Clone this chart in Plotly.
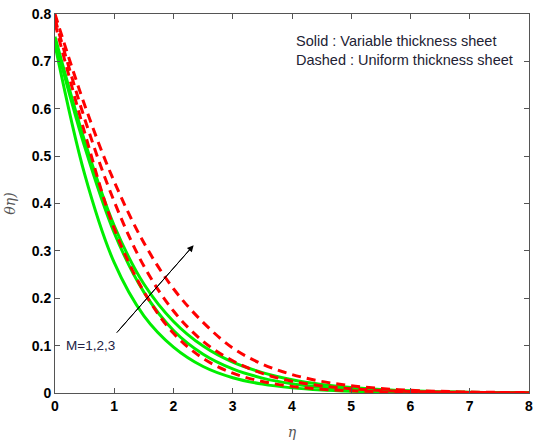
import plotly.graph_objects as go

eta = [0, 0.5, 1, 1.5, 2, 2.5, 3, 3.5, 4, 4.5, 5, 5.5, 6, 6.5, 7, 7.5, 8]

# Solid (variable thickness sheet), M = 1, 2, 3
theta_var_M1 = [0.735, 0.462, 0.275, 0.163, 0.097, 0.056, 0.0323, 0.0187, 0.0108, 0.0062, 0.0036, 0.0021, 0.0012, 0.0007, 0.0004, 0.0002, 0.0001]
theta_var_M2 = [0.745, 0.520, 0.338, 0.213, 0.132, 0.082, 0.051, 0.0315, 0.0195, 0.012, 0.0074, 0.0046, 0.0028, 0.0017, 0.0010, 0.0006, 0.0004]
theta_var_M3 = [0.752, 0.532, 0.353, 0.230, 0.151, 0.099, 0.065, 0.043, 0.028, 0.018, 0.0115, 0.0072, 0.0045, 0.0028, 0.0017, 0.0010, 0.0006]

# Dashed (uniform thickness sheet), M = 1, 2, 3
theta_uni_M1 = [0.780, 0.550, 0.347, 0.214, 0.126, 0.073, 0.042, 0.0243, 0.014, 0.008, 0.0047, 0.0027, 0.0016, 0.0009, 0.0005, 0.0003, 0.0002]
theta_uni_M2 = [0.790, 0.579, 0.404, 0.268, 0.173, 0.109, 0.068, 0.0414, 0.0249, 0.015, 0.009, 0.0054, 0.0032, 0.0020, 0.0012, 0.0007, 0.0004]
theta_uni_M3 = [0.800, 0.608, 0.446, 0.317, 0.220, 0.149, 0.095, 0.061, 0.039, 0.0245, 0.0152, 0.0094, 0.0058, 0.0035, 0.0021, 0.0013, 0.0008]

x_ticks = [0, 1, 2, 3, 4, 5, 6, 7, 8]
x_tick_text = ["0", "1", "2", "3", "4", "5", "6", "7", "8"]
y_ticks = [0, 0.1, 0.2, 0.3, 0.4, 0.5, 0.6, 0.7, 0.8]
y_tick_text = ["0", "0.1", "0.2", "0.3", "0.4", "0.5", "0.6", "0.7", "0.8"]

GREEN = "#00ee00"
RED = "#ff0000"

fig = go.Figure()
for ys in [theta_var_M1, theta_var_M2, theta_var_M3]:
    fig.add_trace(go.Scatter(x=eta, y=ys, mode="lines",
                             line=dict(color=GREEN, width=3, shape="spline", smoothing=1.0),
                             showlegend=False, hoverinfo="skip"))
for ys in [theta_uni_M1, theta_uni_M2, theta_uni_M3]:
    fig.add_trace(go.Scatter(x=eta, y=ys, mode="lines",
                             line=dict(color=RED, width=3, dash="9px,6px", shape="spline", smoothing=1.0),
                             showlegend=False, hoverinfo="skip"))

tickfont = dict(family="Liberation Sans", size=14, color="black")
axis_common = dict(showgrid=False, zeroline=False, showline=True, linecolor="#555555",
                   linewidth=1, mirror="ticks", ticks="inside", ticklen=5,
                   tickcolor="#555555", tickfont=tickfont, ticklabeloverflow="allow")

fig.update_layout(
    width=535, height=443,
    margin=dict(l=55, r=2, t=14, b=50),
    paper_bgcolor="white", plot_bgcolor="white",
    xaxis=dict(range=[0, 8], tickvals=x_ticks, ticktext=["<b>" + t + "</b>" for t in x_tick_text],
               title=dict(text="η", font=dict(family="DejaVu Serif", size=14, color="#555555", style="italic"), standoff=14),
               **axis_common),
    yaxis=dict(range=[0, 0.8], tickvals=y_ticks, ticktext=["<b>" + t + "</b>" for t in y_tick_text],
               title=dict(text="θη)", font=dict(family="DejaVu Serif", size=14, color="#555555", style="italic"), standoff=12),
               **axis_common),
)

fig.add_annotation(x=1.04, y=0.127, ax=2.34, ay=0.312, xref="x", yref="y", axref="x", ayref="y",
                   showarrow=True, arrowhead=0, arrowwidth=1, arrowcolor="black", text="")
fig.add_annotation(x=2.34, y=0.312, ax=1.04, ay=0.127, xref="x", yref="y", axref="x", ayref="y",
                   showarrow=True, arrowhead=2, arrowsize=1.3, arrowwidth=1, arrowcolor="black", text="")
fig.add_annotation(x=0.15, y=0.1, xref="x", yref="y", text="M=1,2,3", showarrow=False,
                   xanchor="left", yanchor="middle", bgcolor="white",
                   font=dict(family="Liberation Sans", size=13.5, color="#222244"))
fig.add_annotation(x=0.504, y=0.929, xref="paper", yref="paper", text="Solid : Variable thickness sheet",
                   showarrow=False, xanchor="left", yanchor="middle",
                   font=dict(family="Liberation Sans", size=14.5, color="#222233"))
fig.add_annotation(x=0.504, y=0.878, xref="paper", yref="paper", text="Dashed : Uniform thickness sheet",
                   showarrow=False, xanchor="left", yanchor="middle",
                   font=dict(family="Liberation Sans", size=14.5, color="#222233"))

fig.write_html("out.html", config={"displayModeBar": False},
               post_script="document.body.style.margin='0';document.body.style.overflow='hidden';")
